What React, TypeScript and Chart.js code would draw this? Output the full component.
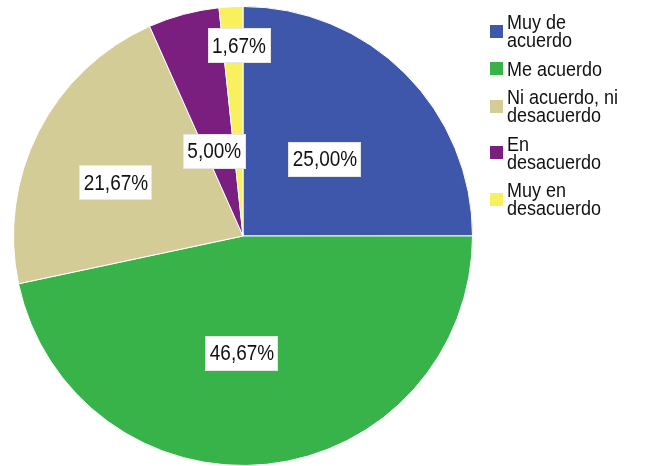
import React, { useEffect, useRef } from "react";
import { Chart, registerables } from "chart.js";

Chart.register(...registerables);

// ---- data ----
const categories: string[][] = [
  ["Muy de", "acuerdo"],
  ["Me acuerdo"],
  ["Ni acuerdo, ni", "desacuerdo"],
  ["En", "desacuerdo"],
  ["Muy en", "desacuerdo"],
];
const percentages: number[] = [25.0, 46.67, 21.67, 5.0, 1.67];

// ---- styles ----
const sliceColors: string[] = ["#3F57AB", "#37B34A", "#D4CC97", "#7A1F80", "#F8F15D"];
const labelRadiusFrac: number[] = [0.49, 0.51, 0.6, 0.39, 0.83];
const labelAngleShiftDeg: number[] = [1.8, 6.5, -4.3, -3.7, 1.8];

const FONT_FAMILY = "'Liberation Sans', Arial, sans-serif";
const FONT_SIZE = 18;
const LABEL_FONT_SIZE = 19;
const TEXT_STRETCH_Y = 1.15;

const fmt = (v: number) => v.toFixed(2).replace(".", ",") + "%";

function stretchedText(ctx: CanvasRenderingContext2D, text: string, x: number, y: number) {
  ctx.save();
  ctx.translate(x, y);
  ctx.scale(1, TEXT_STRETCH_Y);
  ctx.fillText(text, 0, 0);
  ctx.restore();
}

const labelPlugin = {
  id: "pieLabels",
  afterDatasetsDraw(chart: any) {
    const ctx = chart.ctx as CanvasRenderingContext2D;
    const meta = chart.getDatasetMeta(0);
    ctx.save();
    ctx.font = `${LABEL_FONT_SIZE}px ${FONT_FAMILY}`;
    ctx.textAlign = "center";
    ctx.textBaseline = "middle";
    meta.data.forEach((arc: any, i: number) => {
      const p = arc.getProps(["x", "y", "startAngle", "endAngle", "outerRadius"], true);
      const mid = (p.startAngle + p.endAngle) / 2 + (labelAngleShiftDeg[i] * Math.PI) / 180;
      const r = p.outerRadius * labelRadiusFrac[i];
      const cx = p.x + Math.cos(mid) * r;
      const cy = p.y + Math.sin(mid) * r;
      const text = fmt(percentages[i]);
      const w = ctx.measureText(text).width + 9;
      const h = 35;
      ctx.fillStyle = "#ffffff";
      ctx.fillRect(Math.round(cx - w / 2), Math.round(cy - h / 2), Math.round(w), h);
      ctx.strokeStyle = "#e6e6e6";
      ctx.lineWidth = 1;
      ctx.strokeRect(Math.round(cx - w / 2) + 0.5, Math.round(cy - h / 2) + 0.5, Math.round(w) - 1, h - 1);
      ctx.fillStyle = "#111111";
      stretchedText(ctx, text, cx, cy + 1);
    });
    ctx.restore();
  },
};

const legendPlugin = {
  id: "sideLegend",
  afterDraw(chart: any) {
    const ctx = chart.ctx as CanvasRenderingContext2D;
    const boxX = 490;
    const textX = 507;
    const box = 13;
    const lineH = 18;
    const gap = 10.5;
    const cap = 14;
    let baseline = 29;
    ctx.save();
    ctx.font = `${FONT_SIZE}px ${FONT_FAMILY}`;
    ctx.textAlign = "left";
    ctx.textBaseline = "alphabetic";
    categories.forEach((lines, i) => {
      const first = baseline;
      lines.forEach((ln, j) => {
        ctx.fillStyle = "#111111";
        stretchedText(ctx, ln, textX, baseline);
        if (j < lines.length - 1) baseline += lineH;
      });
      const last = baseline;
      const center = (first - cap + last) / 2;
      ctx.fillStyle = sliceColors[i];
      ctx.fillRect(boxX, Math.round(center - box / 2), box, box);
      baseline += lineH + gap;
    });
    ctx.restore();
  },
};

export default function App() {
  const canvasRef = useRef<HTMLCanvasElement | null>(null);

  useEffect(() => {
    if (!canvasRef.current) return;
    const chart = new Chart(canvasRef.current, {
      type: "pie",
      data: {
        labels: categories.map((c) => c.join(" ")),
        datasets: [
          {
            data: percentages,
            backgroundColor: sliceColors,
            borderColor: "#ffffff",
            borderWidth: 1,
            hoverOffset: 0,
          },
        ],
      },
      options: {
        animation: false,
        responsive: false,
        events: [],
        layout: { padding: { left: 13, right: 176, top: 6, bottom: 0 } },
        plugins: {
          legend: { display: false },
          tooltip: { enabled: false },
          title: { display: false },
        },
      },
      plugins: [labelPlugin, legendPlugin],
    });
    return () => chart.destroy();
  }, []);

  return (
    <div style={{ position: "absolute", left: 0, top: 0, width: 649, height: 466, background: "#ffffff" }}>
      <canvas ref={canvasRef} width={649} height={466} style={{ display: "block" }} />
    </div>
  );
}
